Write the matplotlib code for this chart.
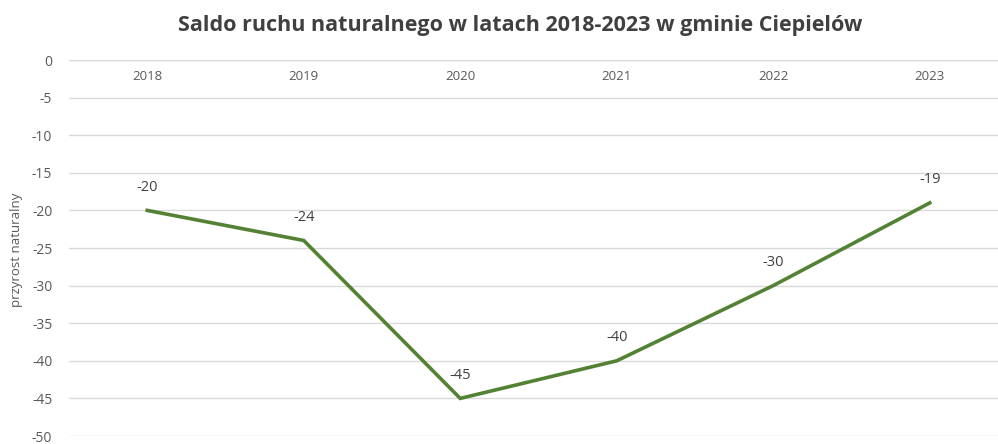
import matplotlib
matplotlib.use("Agg")
import matplotlib.pyplot as plt

years = ["2018", "2019", "2020", "2021", "2022", "2023"]
values = [-20, -24, -45, -40, -30, -19]
yticks = [0, -5, -10, -15, -20, -25, -30, -35, -40, -45, -50]
title = "Saldo ruchu naturalnego w latach 2018-2023 w gminie Ciepielów"
ylabel = "przyrost naturalny"

plt.rcParams['font.family'] = ['Open Sans', 'DejaVu Sans']

W, H = 998, 444
fig = plt.figure(figsize=(W / 100, H / 100), dpi=100)
left, right = 69, 1008
top, bottom = 60, 436
ax = fig.add_axes([left / W, 1 - bottom / H, (right - left) / W, (bottom - top) / H])

x = list(range(len(years)))
ax.plot(x, values, color="#548235", linewidth=2.6, solid_joinstyle="miter", zorder=3)
for xi, v in zip(x, values):
    ax.annotate(str(v), (xi, v), xytext=(0, 23), textcoords="offset pixels",
                ha="center", va="center", fontsize=10.5, color="#404040")

ax.set_xlim(-0.5, len(years) - 0.5)
ax.set_ylim(-50, 0)
ax.set_yticks(yticks)
ax.set_yticklabels([str(t) for t in yticks], fontsize=10, color="#595959")
ax.tick_params(axis="y", length=0, pad=12)
ax.set_xticks([])
ax.grid(axis="y", color="#d9d9d9", linewidth=1)
ax.set_axisbelow(True)
for s in ax.spines.values():
    s.set_visible(False)
ax.axhline(0, color="#d9d9d9", linewidth=1)

for xi, yr in zip(x, years):
    ax.text(xi, -2.2, yr, ha="center", va="center", fontsize=9.5, color="#595959")

fig.text(17 / W, 1 - 250 / H, ylabel, rotation=90, ha="center", va="center",
         fontsize=9.5, color="#595959")
fig.text(520 / W, 1 - 25 / H, title, ha="center", va="center", fontsize=15.5,
         fontweight="bold", color="#404040")

fig.savefig("out.png", dpi=100)
